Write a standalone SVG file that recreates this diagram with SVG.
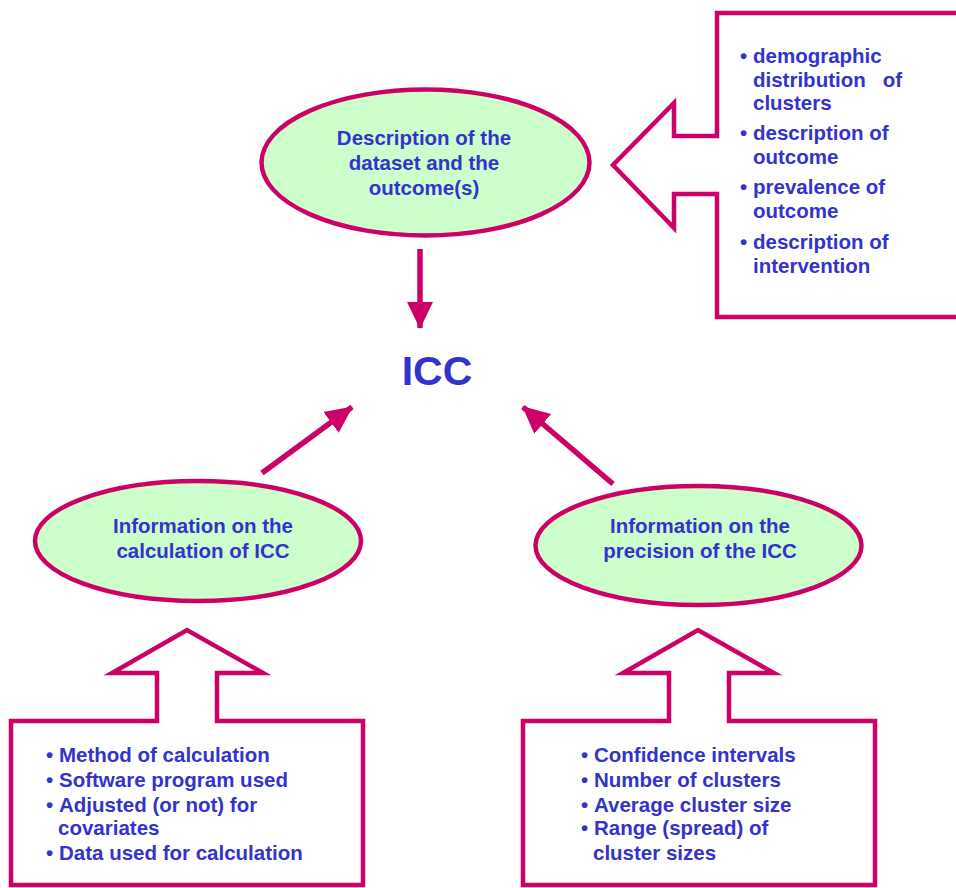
<svg xmlns="http://www.w3.org/2000/svg" width="956" height="888" viewBox="0 0 956 888">
<style>
.shape{fill:#fff;stroke:#CC0066;stroke-width:4.5;stroke-linejoin:miter}
.ell{fill:#CCFFCC;stroke:#CC0066;stroke-width:4.5}
.t{font-family:"Liberation Sans",Arial,sans-serif;font-weight:bold;font-size:20.5px;fill:#3333CC}
.c{text-anchor:middle}
.conn{stroke:#CC0066;stroke-width:5.5;fill:none}
</style>
<defs>
<marker id="ah" markerUnits="userSpaceOnUse" markerWidth="28" markerHeight="28" viewBox="0 0 28 28" refX="26" refY="14" orient="auto">
<path d="M0,1 L27,14 L0,27 Z" fill="#CC0066"/>
</marker>
</defs>
<rect width="956" height="888" fill="#fff"/>
<g id="connectors">
<line class="conn" x1="420" y1="249" x2="420" y2="328" marker-end="url(#ah)"/>
<line class="conn" x1="262" y1="473" x2="352" y2="407" marker-end="url(#ah)"/>
<line class="conn" x1="613" y1="484" x2="523" y2="407" marker-end="url(#ah)"/>
</g>
<g id="top-ellipse">
<ellipse class="ell" cx="425.5" cy="162.5" rx="164" ry="73"/>
<text class="t c" x="424" y="145">Description of the</text>
<text class="t c" x="424" y="170">dataset and the</text>
<text class="t c" x="424" y="195">outcome(s)</text>
</g>
<g id="icc">
<text x="437" y="385" text-anchor="middle" style="font-family:'Liberation Sans',Arial,sans-serif;font-weight:bold;font-size:41px;fill:#3333CC">ICC</text>
</g>
<g id="left-ellipse">
<ellipse class="ell" cx="198" cy="541" rx="163" ry="60"/>
<text class="t c" x="203" y="533">Information on the</text>
<text class="t c" x="203" y="558">calculation of ICC</text>
</g>
<g id="right-ellipse">
<ellipse class="ell" cx="698.5" cy="545.5" rx="163" ry="59.5"/>
<text class="t c" x="700" y="533">Information on the</text>
<text class="t c" x="700" y="558">precision of the ICC</text>
</g>
<g id="right-callout">
<polygon class="shape" points="962,13 717,13 717,136 674,136 674,103 613,165 674,228 674,194 717,194 717,317 962,317"/>
<text class="t" x="740" y="63">•</text><text class="t" x="753" y="63">demographic</text>
<text class="t" x="753" y="87" xml:space="preserve">distribution   of</text>
<text class="t" x="753" y="110">clusters</text>
<text class="t" x="740" y="140">•</text><text class="t" x="753" y="140">description of</text>
<text class="t" x="753" y="164">outcome</text>
<text class="t" x="740" y="194">•</text><text class="t" x="753" y="194">prevalence of</text>
<text class="t" x="753" y="218">outcome</text>
<text class="t" x="740" y="249">•</text><text class="t" x="753" y="249">description of</text>
<text class="t" x="753" y="273">intervention</text>
</g>
<g id="left-callout">
<polygon class="shape" points="11,885 11,721 157,721 157,673 112,673 187,630 263,673 217,673 217,721 363,721 363,885"/>
<text class="t" x="46" y="762">•</text><text class="t" x="59" y="762">Method of calculation</text>
<text class="t" x="46" y="787">•</text><text class="t" x="59" y="787">Software program used</text>
<text class="t" x="46" y="812">•</text><text class="t" x="59" y="812">Adjusted (or not) for</text>
<text class="t" x="58" y="835">covariates</text>
<text class="t" x="46" y="860">•</text><text class="t" x="59" y="860">Data used for calculation</text>
</g>
<g id="right-box">
<polygon class="shape" points="523,885 523,721 669,721 669,673 623,673 698,630 774,673 729,673 729,721 875,721 875,885"/>
<text class="t" x="581" y="762">•</text><text class="t" x="594" y="762">Confidence intervals</text>
<text class="t" x="581" y="787">•</text><text class="t" x="594" y="787">Number of clusters</text>
<text class="t" x="581" y="812">•</text><text class="t" x="594" y="812">Average cluster size</text>
<text class="t" x="581" y="835">•</text><text class="t" x="594" y="835">Range (spread) of</text>
<text class="t" x="593" y="860">cluster sizes</text>
</g>
</svg>
